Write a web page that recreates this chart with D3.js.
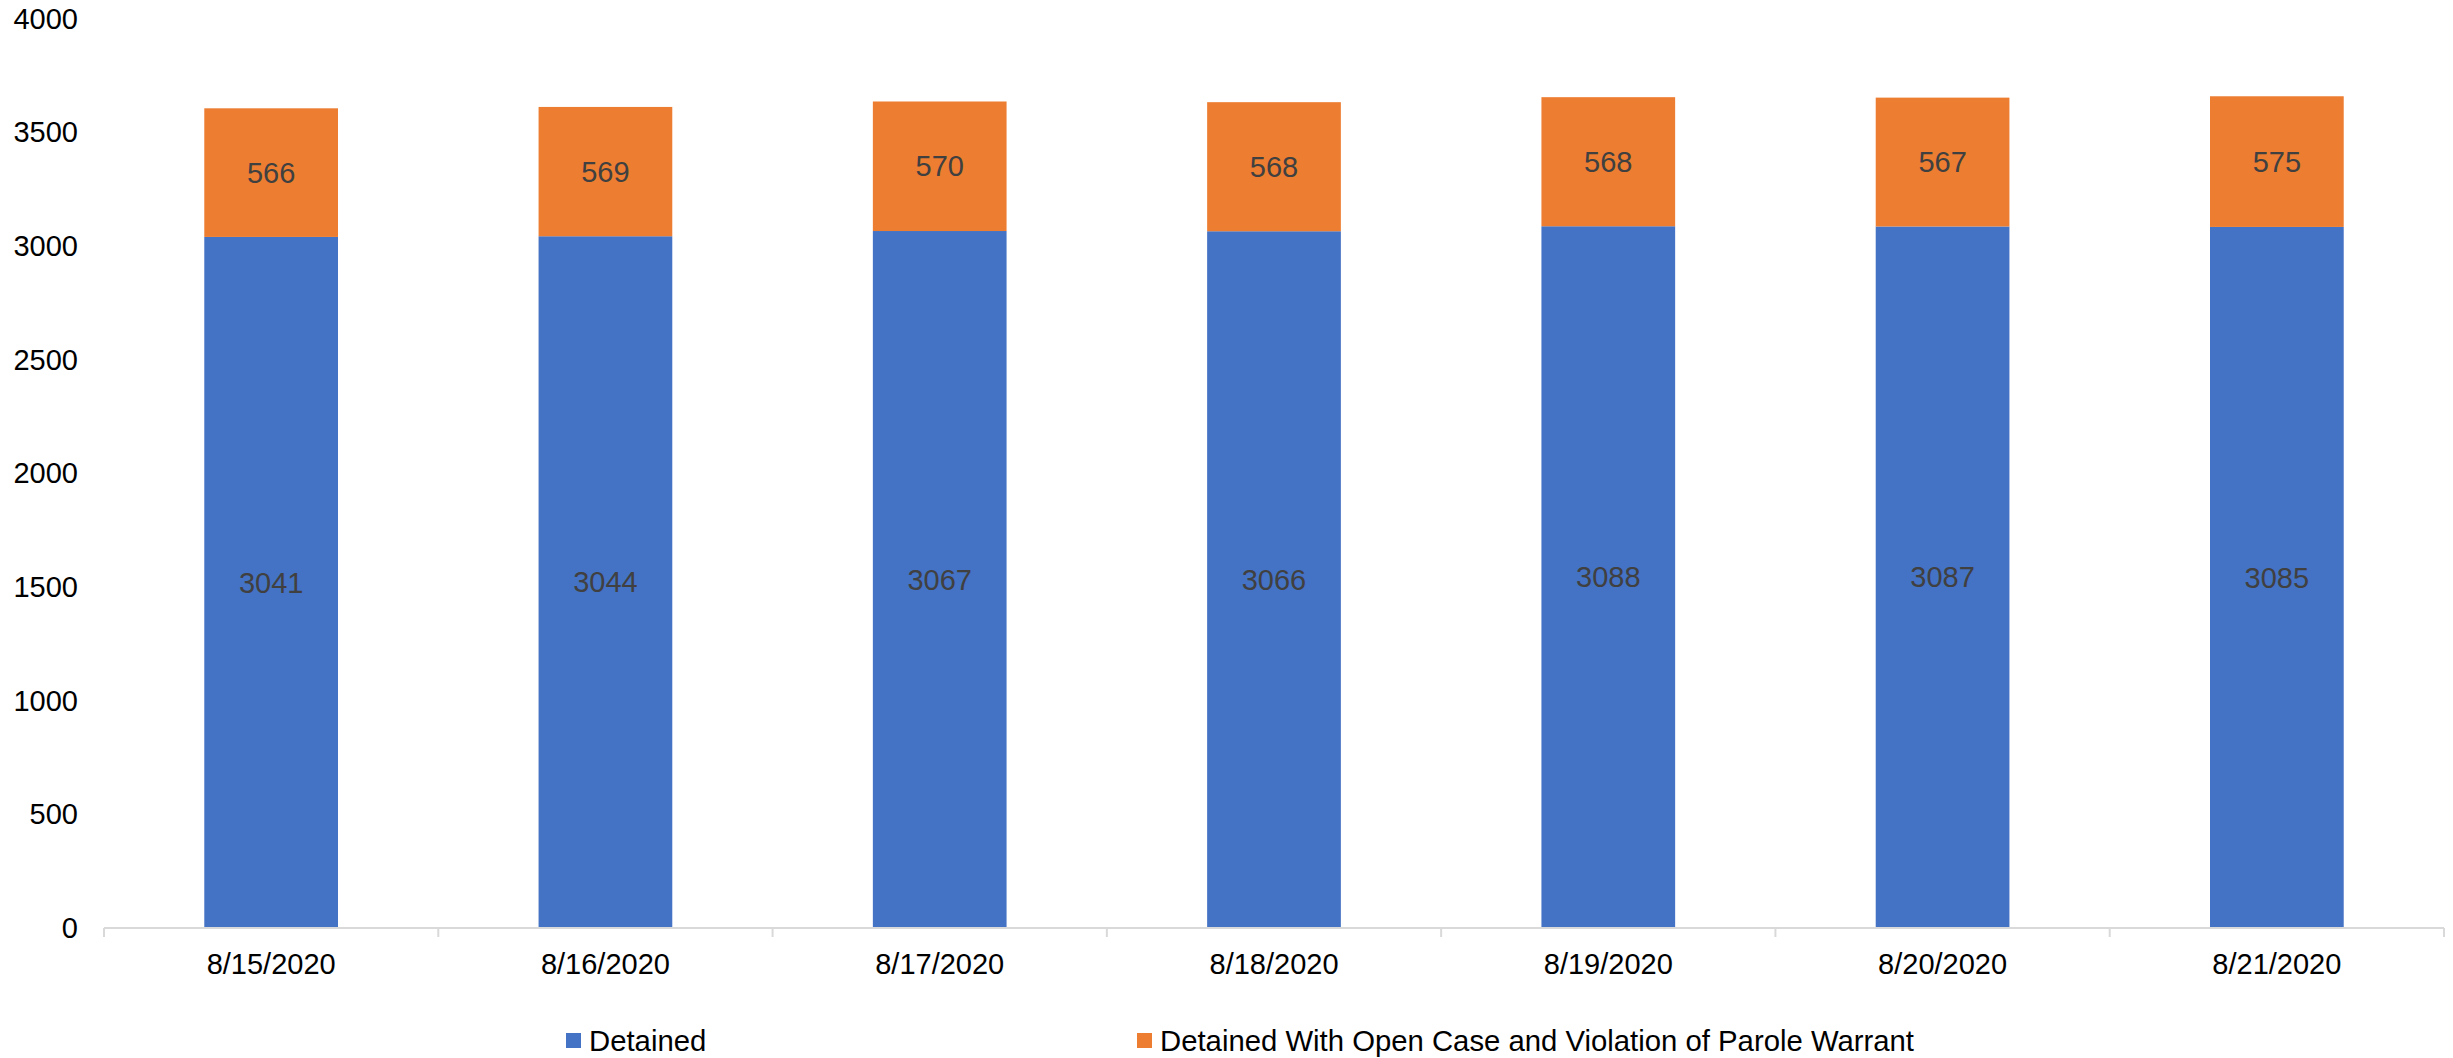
<!DOCTYPE html>
<html>
<head>
<meta charset="utf-8">
<script src="https://cdn.jsdelivr.net/npm/d3@7"></script>
<style>
  html, body { margin: 0; padding: 0; background: #fff; }
  svg { display: block; font-family: "Liberation Sans", Arial, sans-serif; }
</style>
</head>
<body>
<svg id="chart" width="2453" height="1058"></svg>
<script>
const categories = ["8/15/2020", "8/16/2020", "8/17/2020", "8/18/2020", "8/19/2020", "8/20/2020", "8/21/2020"];
const detained = [3041, 3044, 3067, 3066, 3088, 3087, 3085];
const detainedOpenCase = [566, 569, 570, 568, 568, 567, 575];
const seriesNames = ["Detained", "Detained With Open Case and Violation of Parole Warrant"];
const seriesColors = ["#4472C4", "#ED7D31"];
const yTicks = [0, 500, 1000, 1500, 2000, 2500, 3000, 3500, 4000];

(function () {
const rows = categories.map((c, i) => ({ cat: c, s0: detained[i], s1: detainedOpenCase[i] }));

const svg = d3.select("#chart");
const plotLeft = 104, plotRight = 2444, plotTop = 19, plotBottom = 928;
const fontSize = 29;
const legendFont = 29.3;

const x = d3.scaleBand().domain(categories).range([plotLeft, plotRight]).padding(0);
const y = d3.scaleLinear().domain([0, 4000]).range([plotBottom, plotTop]);
const barW = x.bandwidth() * 0.4;

const stack = d3.stack().keys(["s0", "s1"]);
const layers = stack(rows);

// bars
const g = svg.append("g");
layers.forEach((layer, li) => {
  g.selectAll(null).data(layer).enter().append("rect")
    .attr("x", d => x(d.data.cat) + (x.bandwidth() - barW) / 2)
    .attr("width", barW)
    .attr("y", d => y(d[1]))
    .attr("height", d => y(d[0]) - y(d[1]))
    .attr("fill", seriesColors[li]);
});
layers.forEach((layer, li) => {
  g.selectAll(null).data(layer).enter().append("text")
    .attr("x", d => x(d.data.cat) + x.bandwidth() / 2)
    .attr("y", d => y((d[0] + d[1]) / 2))
    .attr("dy", "0.35em")
    .attr("text-anchor", "middle")
    .attr("font-size", fontSize)
    .attr("fill", "#404040")
    .text(d => d[1] - d[0]);
});

// x axis
const xg = svg.append("g").attr("transform", `translate(0,${plotBottom})`);
xg.append("line").attr("x1", plotLeft).attr("x2", plotRight).attr("y1", 0).attr("y2", 0)
  .attr("stroke", "#D9D9D9").attr("stroke-width", 2);
const bounds = categories.map(c => x(c)).concat([plotRight]);
xg.selectAll(null).data(bounds).enter().append("line")
  .attr("x1", d => d).attr("x2", d => d).attr("y1", 0).attr("y2", 9)
  .attr("stroke", "#D9D9D9").attr("stroke-width", 2);
const xAxis = d3.axisBottom(x).tickSize(0).tickPadding(0);
const xa = svg.append("g").attr("transform", `translate(0,${plotBottom})`).call(xAxis);
xa.select(".domain").remove();
xa.selectAll("text").attr("font-size", fontSize).attr("fill", "#000")
  .attr("font-family", '"Liberation Sans", Arial, sans-serif')
  .attr("y", 46).attr("dy", 0);

// y axis
const yAxis = d3.axisLeft(y).tickValues(yTicks).tickSize(0).tickPadding(0).tickFormat(d3.format("d"));
const ya = svg.append("g").attr("transform", `translate(78,0)`).call(yAxis);
ya.select(".domain").remove();
ya.selectAll("text").attr("font-size", fontSize).attr("fill", "#000")
  .attr("font-family", '"Liberation Sans", Arial, sans-serif');

// legend
const legendX = [566, 1137];
const lg = svg.append("g");
seriesNames.forEach((name, i) => {
  lg.append("rect").attr("x", legendX[i]).attr("y", 1033).attr("width", 15).attr("height", 15)
    .attr("fill", seriesColors[i]);
  lg.append("text").attr("x", legendX[i] + 23).attr("y", 1041).attr("dy", "0.35em")
    .attr("font-size", legendFont).attr("fill", "#000").text(name);
});
})();
</script>
</body>
</html>
